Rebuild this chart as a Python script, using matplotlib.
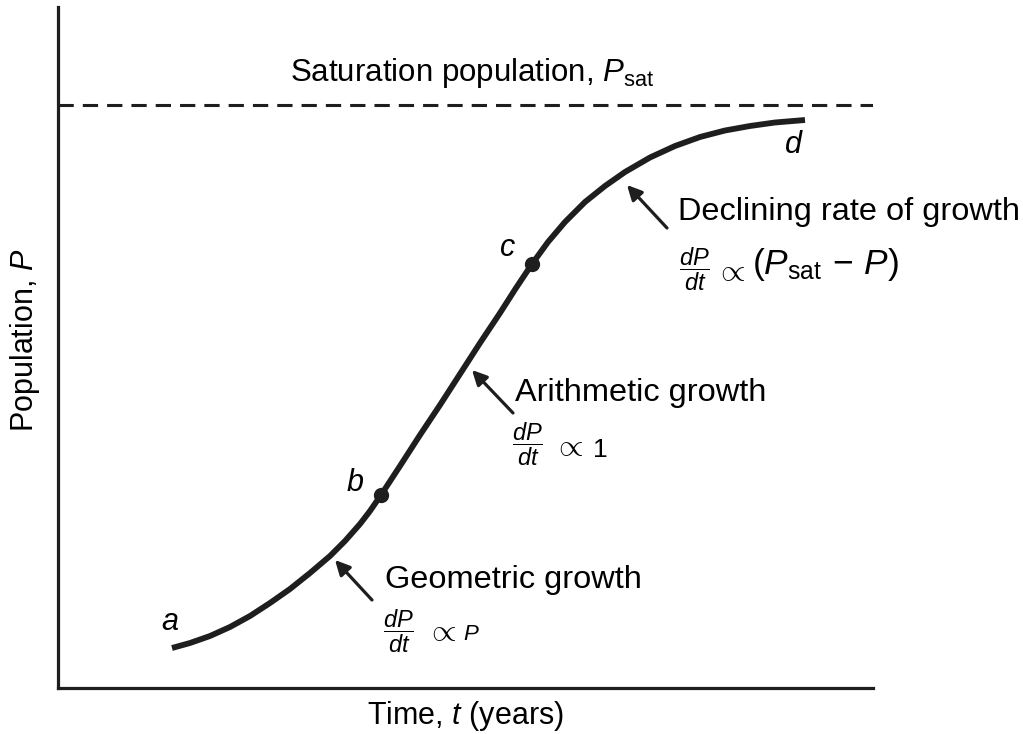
import matplotlib
matplotlib.use("Agg")
import matplotlib.pyplot as plt

plt.rcParams['font.family'] = ['Liberation Sans', 'DejaVu Sans']
plt.rcParams['mathtext.fontset'] = 'custom'
plt.rcParams['mathtext.rm'] = 'Liberation Sans'
plt.rcParams['mathtext.it'] = 'Liberation Sans:italic'
plt.rcParams['mathtext.sf'] = 'Liberation Sans'
plt.rcParams['lines.scale_dashes'] = False

INK = '#1e1e1e'

# population curve (time, population in arbitrary units)
time_vals = [114, 132, 152, 172, 192, 212, 232, 252, 272, 287, 302, 312, 323,
             342, 362, 382, 402, 422, 442, 458, 474, 490, 507, 527, 547, 567,
             592, 617, 642, 667, 692, 717, 747]
pop_vals = [40, 45, 52, 61, 72, 85, 99, 115, 132, 147, 164, 177, 193,
            222, 253, 283, 314, 345, 375, 400, 424, 446, 466, 486, 502, 516,
            530.5, 542, 551, 557.5, 562, 565.5, 568]
p_sat = 583

# marked points b and c
marked_t = [323, 474]
marked_p = [193, 424]

# point letters
letters = ['a', 'b', 'c', 'd']
letter_t = [112, 297, 450, 735]
letter_p = [66, 205, 440, 543]

# phase labels
phase_names = ['Geometric growth', 'Arithmetic growth', 'Declining rate of growth']
arrow_tip = [(277, 128), (414, 318), (569, 503)]
arrow_tail = [(314, 88), (455, 275), (609, 460)]
name_pos = [(327, 108), (457, 295), (620, 476)]

# rate formulas: dP/dt  ∝  right-hand side
frac_pos = [(340, 57), (469, 244), (636, 419)]
prop_pos = [(383, 56), (510, 241), (672, 416)]
rhs_text = [r'$P$', r'$1$', r'$(P_{\mathrm{sat}}\,-\,P)$']
rhs_pos = [(405, 48), (534, 231), (694, 414)]
rhs_size = [16, 19, 25.5]

fig = plt.figure(figsize=(10.23, 7.34), dpi=100)
ax = fig.add_axes([58 / 1023, 46 / 734, 815 / 1023, 681 / 734])
ax.set_xlim(0, 815)
ax.set_ylim(0, 681)

for side in ['top', 'right']:
    ax.spines[side].set_visible(False)
for side in ['left', 'bottom']:
    ax.spines[side].set_linewidth(2.3)
    ax.spines[side].set_color(INK)
ax.set_xticks([])
ax.set_yticks([])

ax.axhline(p_sat, color=INK, lw=2.2, dashes=(11, 6.5))
ax.text(414, 615, r'Saturation population, $P_{\mathrm{sat}}$', fontsize=22.5,
        ha='center', va='center', color='black')

ax.plot(time_vals, pop_vals, color=INK, lw=4.2, solid_capstyle='butt',
        solid_joinstyle='round')
ax.plot(marked_t, marked_p, 'o', color=INK, ms=10)

for lt, lx, ly in zip(letters, letter_t, letter_p):
    ax.text(lx, ly, lt, fontsize=22, style='italic', ha='center', va='center')

for i in range(3):
    ax.annotate('', xy=arrow_tip[i], xytext=arrow_tail[i],
                arrowprops=dict(arrowstyle='-|>', color=INK, lw=2.3, mutation_scale=22,
                                shrinkA=0, shrinkB=0))
    ax.text(name_pos[i][0], name_pos[i][1], phase_names[i], fontsize=23.4,
            ha='left', va='center')
    ax.text(frac_pos[i][0], frac_pos[i][1], r'$\dfrac{dP}{dt}$', fontsize=17,
            ha='center', va='center')
    ax.text(prop_pos[i][0], prop_pos[i][1], r'$\propto$', fontsize=23,
            ha='center', va='center')
    ax.text(rhs_pos[i][0], rhs_pos[i][1], rhs_text[i], fontsize=rhs_size[i],
            ha='left', va='baseline')

ax.set_xlabel('Time, $t$ (years)', fontsize=22, labelpad=8)
ax.set_ylabel('Population, $P$', fontsize=22)
ax.yaxis.set_label_coords(-0.02, 0.511)

fig.savefig('out.png', dpi=100, facecolor='white')
